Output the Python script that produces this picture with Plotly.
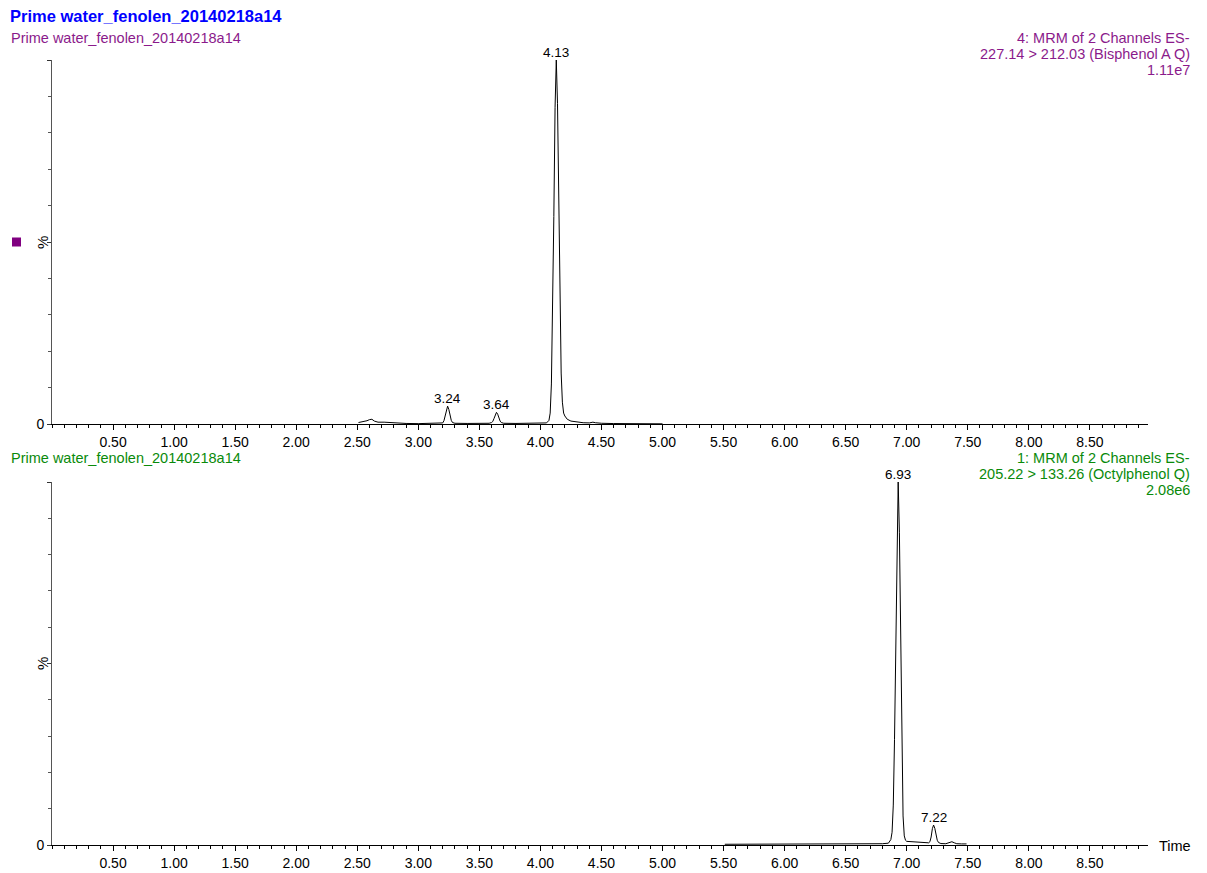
import plotly.graph_objects as go

W, H = 1207, 873
FONT = "Liberation Sans, Arial, sans-serif"
PURPLE = "#8B1A8B"
GREEN = "#0A8A0A"
BLUE = "#0000FF"

sample_name = "Prime water_fenolen_20140218a14"

# Channel 4: Bisphenol A (relative intensity, %)
bpa_time = [2.51, 2.55, 2.58, 2.60, 2.62, 2.64, 2.67, 2.72, 2.76, 2.80, 2.90, 3.00,
            3.10, 3.18, 3.20, 3.21, 3.22, 3.23, 3.24, 3.25, 3.26, 3.27, 3.28, 3.30,
            3.40, 3.50, 3.58, 3.60, 3.61, 3.62, 3.63, 3.64, 3.65, 3.66, 3.67, 3.68,
            3.70, 3.80, 3.90, 4.00, 4.05, 4.07, 4.08, 4.09, 4.10, 4.11, 4.12, 4.13,
            4.14, 4.15, 4.16, 4.17, 4.18, 4.19, 4.20, 4.22, 4.25, 4.30, 4.35, 4.40,
            4.42, 4.43, 4.45, 4.50, 4.60, 4.80, 5.00]
bpa_pct = [0.4, 0.6, 0.9, 1.2, 1.3, 0.8, 0.5, 0.5, 0.4, 0.2, 0.15, 0.1,
           0.1, 0.15, 0.3, 0.9, 2.2, 4.0, 4.9, 4.0, 2.3, 1.0, 0.4, 0.2,
           0.15, 0.15, 0.2, 0.4, 0.7, 1.5, 2.6, 3.2, 2.7, 1.6, 0.8, 0.4,
           0.2, 0.15, 0.15, 0.2, 0.3, 1.0, 3.0, 11, 29, 57, 87, 100,
           88, 60, 32, 14, 6, 3, 2.2, 1.3, 0.8, 0.5, 0.35, 0.3,
           0.4, 0.5, 0.35, 0.2, 0.12, 0.05, 0.05]
bpa_peaks = [3.24, 3.64, 4.13]
bpa_header = ["4: MRM of 2 Channels ES-", "227.14 > 212.03 (Bisphenol A Q)", "1.11e7"]

# Channel 1: Octylphenol (relative intensity, %)
op_time = [5.51, 5.80, 6.00, 6.30, 6.60, 6.80, 6.85, 6.87, 6.88, 6.89, 6.90, 6.91,
           6.92, 6.93, 6.94, 6.95, 6.96, 6.97, 6.98, 6.99, 7.00, 7.05, 7.10, 7.15,
           7.18, 7.19, 7.20, 7.21, 7.22, 7.23, 7.24, 7.25, 7.26, 7.28, 7.32, 7.35,
           7.37, 7.39, 7.41, 7.45, 7.49]
op_pct = [0.2, 0.2, 0.25, 0.25, 0.3, 0.35, 0.5, 1.5, 3.5, 11, 29, 57,
          87, 100, 86, 55, 25, 8, 2.5, 1.3, 1.0, 0.9, 0.8, 0.6,
          0.6, 0.9, 2.2, 4.5, 5.5, 4.6, 2.8, 1.3, 0.7, 0.4, 0.35, 0.6,
          0.9, 0.6, 0.35, 0.3, 0.3]
op_peaks = [6.93, 7.22]
op_header = ["1: MRM of 2 Channels ES-", "205.22 > 133.26 (Octylphenol Q)", "2.08e6"]

x_major = [0.5 * i for i in range(1, 18)]


def px(x, y):
    """Pixel position -> paper coordinates."""
    return x / W, 1 - y / H


x_dom = [52 / W, 1148 / W]
top_dom = [1 - 424 / H, 1 - 60 / H]
bot_dom = [1 - 845 / H, 1 - 482 / H]

fig = go.Figure()
fig.add_trace(go.Scatter(x=bpa_time, y=bpa_pct, mode="lines",
                         line=dict(color="black", width=1), xaxis="x", yaxis="y",
                         hoverinfo="skip"))
fig.add_trace(go.Scatter(x=op_time, y=op_pct, mode="lines",
                         line=dict(color="black", width=1), xaxis="x2", yaxis="y2",
                         hoverinfo="skip"))


def xaxis(anchor):
    return dict(domain=x_dom, anchor=anchor, range=[0, 8.976], showgrid=False,
                zeroline=False, showline=True, linecolor="black", linewidth=1,
                ticks="outside", ticklen=5, tickcolor="black", tickwidth=1,
                tickvals=x_major, ticktext=[f"{v:.2f}" for v in x_major],
                tickfont=dict(family=FONT, size=14, color="black"),
                minor=dict(ticks="outside", ticklen=3, dtick=0.1, tick0=0,
                           tickcolor="black", tickwidth=1, showgrid=False),
                automargin=False, fixedrange=True)


def yaxis(dom, anchor):
    return dict(domain=dom, anchor=anchor, range=[0, 100], showgrid=False,
                zeroline=False, showline=True, linecolor="#555555", linewidth=1,
                ticks="outside", ticklen=4, tickcolor="#333333", tickwidth=1,
                tickvals=[0, 50, 100], ticktext=["0", "", ""],
                tickfont=dict(family=FONT, size=14, color="black"),
                minor=dict(ticks="outside", ticklen=3, dtick=10, tick0=0,
                           tickcolor="#555555", tickwidth=1, showgrid=False),
                automargin=False, fixedrange=True)


fig.update_layout(
    width=W, height=H, margin=dict(l=0, r=0, t=0, b=0),
    paper_bgcolor="white", plot_bgcolor="white", showlegend=False,
    xaxis=xaxis("y"), yaxis=yaxis(top_dom, "x"),
    xaxis2=xaxis("y2"), yaxis2=yaxis(bot_dom, "x2"),
)

ann = []


def text(x, y, s, color, size=14.5, bold=False, xanchor="left", angle=0):
    xp, yp = px(x, y)
    ann.append(dict(x=xp, y=yp, xref="paper", yref="paper", text=f"<b>{s}</b>" if bold else s,
                    showarrow=False, xanchor=xanchor, yanchor="middle", textangle=angle,
                    font=dict(family=FONT, size=size, color=color)))


text(8, 16, sample_name, BLUE, size=16.5, bold=True)
text(9, 38, sample_name, PURPLE)
text(9, 458, sample_name, GREEN)

for i, line in enumerate(bpa_header):
    text(1192, 38 + 16 * i, line, PURPLE, xanchor="right")
for i, line in enumerate(op_header):
    text(1192, 458 + 16 * i, line, GREEN, xanchor="right")

text(42.5, 242.5, "%", "black", size=15, xanchor="center", angle=-90)
text(42.5, 663.5, "%", "black", size=15, xanchor="center", angle=-90)
text(1157, 846, "Time", "black", size=14.5)

# Retention-time labels above each integrated peak
for times, vals, xa, ya in [(bpa_time, bpa_pct, "x", "y"), (op_time, op_pct, "x2", "y2")]:
    peaks = bpa_peaks if xa == "x" else op_peaks
    for t in peaks:
        v = vals[times.index(t)]
        ann.append(dict(x=t, y=v, xref=xa, yref=ya, text=f"{t:.2f}", showarrow=False,
                        xanchor="center", yanchor="middle", yshift=7.5,
                        font=dict(family=FONT, size=13.5, color="black")))

fig.update_layout(annotations=ann)

# Channel colour marker
fig.add_shape(type="rect", xref="paper", yref="paper",
              x0=12 / W, x1=21 / W, y0=1 - 246.5 / H, y1=1 - 237.5 / H,
              fillcolor="#800080", line=dict(width=0))

fig.write_html("out.html")
